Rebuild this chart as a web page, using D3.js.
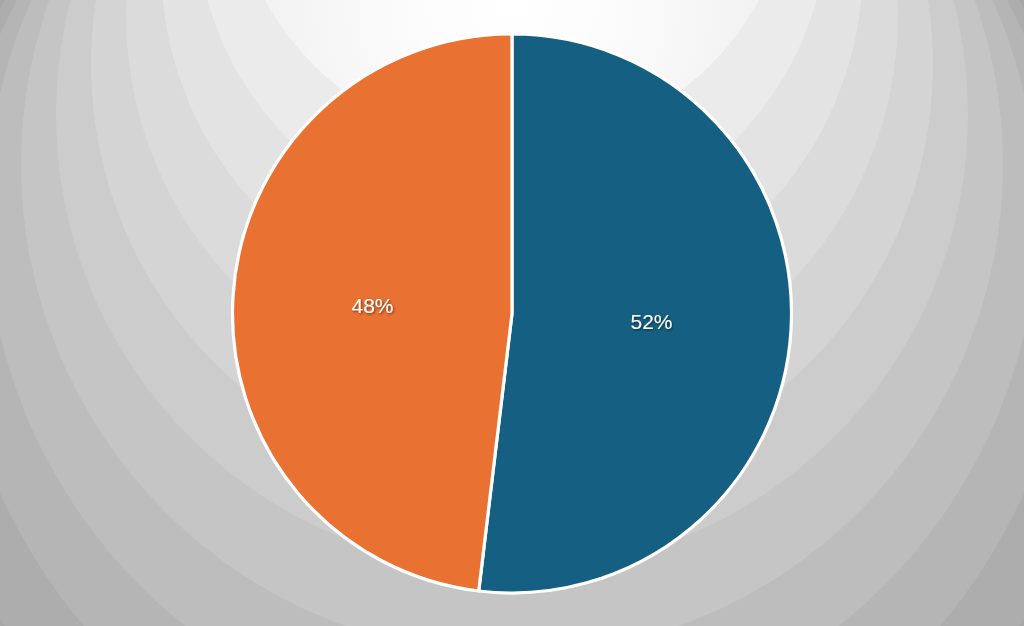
<!DOCTYPE html>
<html>
<head>
<meta charset="utf-8">
<script src="https://cdn.jsdelivr.net/npm/d3@7"></script>
<style>
  html, body { margin: 0; padding: 0; background: #fff; }
  svg { display: block; }
</style>
</head>
<body>
<svg id="chart" width="1024" height="626"></svg>
<script>
// ---- data ----
const categories = ["Series A", "Series B"];
const values = [51.9, 48.1];
const labels = ["52%", "48%"];
const sliceColors = ["#156082", "#E97132"];

// ---- background band greys (decoration, innermost first) ----
const bandGreys = ["url(#innerGlow)", "#EBEBEB", "#E3E3E3", "#DBDBDB", "#D4D4D4",
                   "#CCCCCC", "#C5C5C5", "#BDBDBD", "#B5B5B5", "#ADADAD", "#A6A6A6", "#9F9F9F"];

const W = 1024, H = 626;
const svg = d3.select("#chart");

const defs = svg.append("defs");
const f = defs.append("filter").attr("id", "txtShadow")
  .attr("x", "-20%").attr("y", "-20%").attr("width", "140%").attr("height", "140%");
f.append("feDropShadow").attr("dx", 1).attr("dy", 1.2).attr("stdDeviation", 0.9)
  .attr("flood-color", "#000").attr("flood-opacity", 0.55);

const glow = defs.append("radialGradient").attr("id", "innerGlow")
  .attr("gradientUnits", "userSpaceOnUse")
  .attr("cx", W / 2).attr("cy", 0).attr("r", 260);
glow.append("stop").attr("offset", 0).attr("stop-color", "#FFFFFF");
glow.append("stop").attr("offset", 0.45).attr("stop-color", "#FBFBFB");
glow.append("stop").attr("offset", 1).attr("stop-color", "#F1F1F1");

// background: stepped radial bands
const bg = svg.append("g");
bg.append("rect").attr("width", W).attr("height", H).attr("fill", "#9A9A9A");
const bandIdx = d3.range(bandGreys.length).reverse();
const bandR = k => 281 + 35 * k;
bg.selectAll("circle").data(bandIdx).join("circle")
  .attr("cx", W / 2)
  .attr("cy", k => 1.42 * bandR(k) - 533)
  .attr("r", k => bandR(k))
  .attr("fill", k => bandGreys[k]);

// pie
const cx = 512, cy = 313.5, R = 279.5;
const pie = d3.pie().sort(null).value(d => d);
const arcs = pie(values);
const arc = d3.arc().innerRadius(0).outerRadius(R);

const g = svg.append("g").attr("transform", `translate(${cx},${cy})`);
g.selectAll("path").data(arcs).join("path")
  .attr("d", arc)
  .attr("fill", (d, i) => sliceColors[i])
  .attr("stroke", "#FFFFFF")
  .attr("stroke-width", 3.2)
  .attr("stroke-linejoin", "round");

g.selectAll("text").data(arcs).join("text")
  .attr("transform", d => { const c = arc.centroid(d); return `translate(${c[0]},${c[1]})`; })
  .attr("text-anchor", "middle")
  .attr("dominant-baseline", "central")
  .attr("font-family", "'Liberation Sans', Arial, sans-serif")
  .attr("font-size", 21)
  .attr("fill", "#FFFFFF")
  .attr("filter", "url(#txtShadow)")
  .text((d, i) => labels[i]);
</script>
</body>
</html>
